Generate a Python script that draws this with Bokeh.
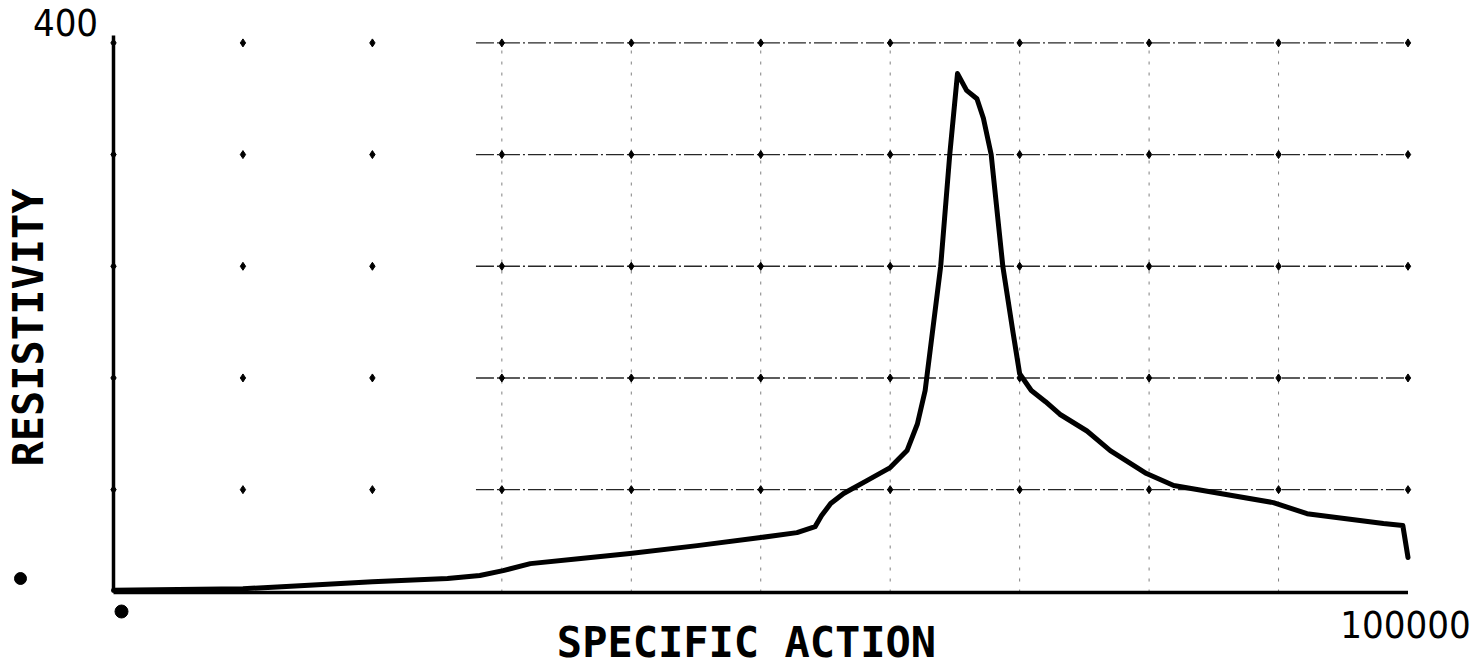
import math

from bokeh.core.properties import value
from bokeh.embed import file_html
from bokeh.models import Range1d
from bokeh.plotting import figure
from bokeh.resources import INLINE

# Resistivity versus specific action
SPECIFIC_ACTION = [0, 10000, 13000, 20000, 25800, 28300, 30100, 32200, 36100, 39900,
                   45100, 50000, 52800, 54200, 54700, 55400, 56400, 58200, 60000, 61300,
                   62100, 62700, 63900, 64600, 65200, 65900, 66700, 67200, 67800, 68700,
                   69500, 70000, 70900, 72000, 73100, 75200, 77000, 79800, 81900, 85500,
                   89600, 92200, 98100, 99600, 100000]
RESISTIVITY = [8, 9, 10.5, 14, 16.3, 18.5, 22, 27, 30.6, 34.2,
               39.9, 45.7, 49.2, 53.5, 61.4, 70, 77.2, 86.5, 95.8, 108,
               127, 151, 240, 320, 378, 366, 360, 346, 320, 240,
               192, 163, 151, 143, 134, 122, 108, 91.5, 82.9, 77.2,
               70.7, 62.8, 55.7, 54.3, 31.4]

# grid / axis values
X_GRID = [10000, 20000, 30000, 40000, 50000, 60000, 70000, 80000, 90000, 100000]
Y_GRID = [80, 160, 240, 320, 400]
X_MAX = 100000
Y_MAX = 400
Y_AXIS = 6.3          # level at which the horizontal axis is drawn
H_LINE_START = 28000
X_LABEL = "SPECIFIC ACTION"
Y_LABEL = "RESISTIVITY"

W, H = 1475, 671
# screen layout: where the origin sits and how many data units one pixel spans
ORIGIN_PX = 113
TOP_PX = 41           # pixel row of y = TOP_VAL
TOP_VAL = 401
DX = 77.25            # data units of x per pixel
DY = 0.7163           # data units of y per pixel


def sx(px):
    return (px - ORIGIN_PX) * DX


def sy(py):
    return TOP_VAL - (py - TOP_PX) * DY


# the frame fills the whole canvas so axes and labels are drawn as glyphs
p = figure(width=W, height=H, output_backend="svg", toolbar_location=None,
           x_range=Range1d(sx(0), sx(W)), y_range=Range1d(sy(H), sy(0)),
           min_border=0)
p.axis.visible = False
p.grid.visible = False
p.outline_line_color = None
p.background_fill_color = "white"
p.border_fill_color = "white"

# faint vertical grid lines
v_x = [x for x in X_GRID if 30000 <= x < X_MAX]
p.segment(x0=v_x, y0=[Y_AXIS] * len(v_x), x1=v_x, y1=[Y_MAX] * len(v_x),
          line_color="black", line_alpha=0.5, line_width=1, line_dash="3 8")

# dash-dot horizontal grid lines
p.segment(x0=[H_LINE_START] * len(Y_GRID), y0=Y_GRID,
          x1=[X_MAX] * len(Y_GRID), y1=Y_GRID,
          line_color="black", line_alpha=0.85, line_width=1.4, line_dash="18 3 2 3")

# dots at the grid intersections
gx = [x for x in [0] + X_GRID for _ in Y_GRID]
gy = [y for _ in [0] + X_GRID for y in Y_GRID]
p.scatter(gx, gy, marker="diamond", size=8, color="black")

# axes
p.segment(x0=[0], y0=[Y_AXIS], x1=[0], y1=[sy(35)], line_color="black", line_width=3.5)
p.segment(x0=[0], y0=[Y_AXIS], x1=[X_MAX], y1=[Y_AXIS], line_color="black", line_width=3.5)

# the curve
p.line(SPECIFIC_ACTION, RESISTIVITY, line_width=5, line_color="black",
       line_join="round", line_cap="round")

num_font = value("Liberation Sans Narrow, DejaVu Sans Condensed, sans-serif")
plot_font = value("DejaVu Sans Mono")

# end-of-axis values
p.text(x=[sx(65)], y=[sy(22)], text=[str(Y_MAX)], text_font=num_font,
       text_font_size="38px", text_align="center", text_baseline="alphabetic",
       text_color="black")
p.text(x=[sx(1405)], y=[sy(624)], text=[str(X_MAX)], text_font=num_font,
       text_font_size="38px", text_align="center", text_baseline="alphabetic",
       text_color="black")
# origin marks
p.scatter(x=[sx(20), sx(121)], y=[sy(578), sy(611)], size=[12, 13],
          marker="circle", color="black")

# axis titles
p.text(x=[sx(746)], y=[sy(642)], text=[X_LABEL], text_font=plot_font,
       text_font_style="bold", text_font_size="42px", text_align="center",
       text_baseline="alphabetic", text_color="black")
p.text(x=[sx(28)], y=[sy(327)], text=[Y_LABEL], text_font=plot_font,
       text_font_style="bold", text_font_size="42px", text_align="center",
       text_baseline="alphabetic", angle=math.pi / 2, text_color="black")

open("out.html", "w").write(file_html(p, INLINE))
